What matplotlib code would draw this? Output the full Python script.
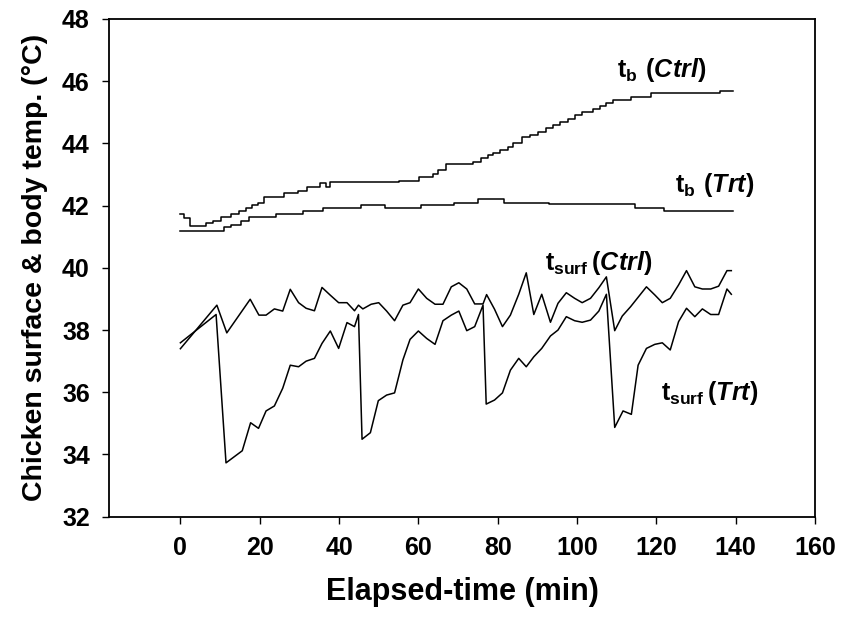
import matplotlib
matplotlib.use('Agg')
import matplotlib.pyplot as plt

# body temperature, stepwise readings (min, degC)
tb_ctrl_time = [0, 1.0, 2.3, 6.5, 8.3, 10.3, 12.8, 14.9, 16.6, 18.1, 19.5, 21.2,
                26.2, 29.6, 31.8, 35.1, 36.8, 37.7, 55.2, 60.2, 63.6, 64.9, 67.0,
                73.7, 75.8, 77.5, 78.8, 80.5, 82.6, 83.9, 86.2, 88.1, 90.2, 92.3,
                94.0, 95.7, 97.8, 99.5, 101.2, 104.0, 105.7, 107.3, 109.0, 113.7,
                118.7, 136.0, 139.3]
tb_ctrl = [41.72, 41.60, 41.34, 41.43, 41.51, 41.64, 41.73, 41.84, 41.91, 42.02,
           42.09, 42.27, 42.40, 42.48, 42.61, 42.74, 42.60, 42.75, 42.80, 42.93,
           43.02, 43.14, 43.33, 43.39, 43.52, 43.63, 43.70, 43.79, 43.87, 44.02,
           44.20, 44.27, 44.38, 44.50, 44.59, 44.70, 44.80, 44.90, 45.00, 45.10,
           45.20, 45.30, 45.40, 45.50, 45.63, 45.69, 45.69]

tb_trt_time = [0, 11.0, 12.7, 15.2, 17.3, 24.0, 30.8, 36.0, 45.5, 51.6, 60.6,
               69.0, 75.0, 81.6, 93.0, 114.5, 122.0, 139.3]
tb_trt = [41.19, 41.30, 41.38, 41.50, 41.64, 41.72, 41.84, 41.91, 42.03, 41.91,
          42.03, 42.09, 42.21, 42.10, 42.04, 41.91, 41.84, 41.84]

# surface temperature
ts_ctrl_time = [0, 9.2, 11.7, 17.6, 19.8, 21.6, 23.7, 25.8, 27.7, 29.8, 31.7,
                33.8, 35.7, 37.8, 39.9, 42.0, 43.9, 44.9, 46.0, 48.1, 50.0, 52.0,
                54.0, 56.1, 57.9, 60.0, 62.1, 64.2, 66.2, 68.3, 70.2, 72.2, 74.2,
                76.3, 77.2, 79.2, 81.2, 83.2, 85.3, 87.2, 89.1, 91.1, 93.3, 95.2,
                97.3, 99.4, 101.3, 103.4, 105.5, 107.4, 109.5, 111.4, 113.5, 115.5,
                117.5, 119.6, 121.5, 123.5, 125.6, 127.6, 129.7, 131.6, 133.7,
                135.7, 137.8, 138.9]
ts_ctrl = [37.40, 38.80, 37.91, 38.99, 38.48, 38.48, 38.68, 38.61, 39.31, 38.88,
           38.70, 38.62, 39.37, 39.12, 38.88, 38.88, 38.62, 38.80, 38.68, 38.83,
           38.88, 38.61, 38.30, 38.80, 38.88, 39.32, 39.02, 38.83, 38.83, 39.39,
           39.52, 39.32, 38.84, 38.84, 39.14, 38.67, 38.11, 38.48, 39.15, 39.84,
           38.50, 39.15, 38.25, 38.86, 39.20, 39.02, 38.88, 39.02, 39.36, 39.71,
           37.98, 38.45, 38.75, 39.07, 39.39, 39.13, 38.88, 39.02, 39.45, 39.91,
           39.39, 39.32, 39.32, 39.41, 39.91, 39.91]

ts_trt_time = [0, 9.0, 11.5, 15.6, 17.7, 19.7, 21.6, 23.7, 25.8, 27.7, 29.8, 31.7,
               33.8, 35.7, 37.8, 39.9, 42.0, 43.9, 44.9, 45.8, 47.9, 49.9, 52.0,
               54.0, 56.1, 57.9, 60.0, 62.1, 64.2, 66.2, 68.3, 70.2, 72.2, 74.2,
               76.3, 77.1, 79.2, 81.2, 83.2, 85.3, 87.2, 89.1, 91.1, 93.3, 95.2,
               97.3, 99.4, 101.3, 103.4, 105.5, 107.4, 109.5, 111.6, 113.7, 115.4,
               117.5, 119.6, 121.5, 123.5, 125.6, 127.6, 129.7, 131.6, 133.7,
               135.7, 137.8, 138.9]
ts_trt = [37.59, 38.50, 33.73, 34.12, 35.02, 34.84, 35.40, 35.56, 36.13, 36.87,
          36.82, 37.00, 37.09, 37.57, 37.97, 37.41, 38.24, 38.11, 38.50, 34.49,
          34.70, 35.73, 35.91, 35.98, 37.04, 37.70, 37.97, 37.73, 37.54, 38.30,
          38.48, 38.61, 37.98, 38.11, 38.80, 35.62, 35.75, 35.98, 36.71, 37.09,
          36.82, 37.14, 37.41, 37.81, 38.00, 38.43, 38.30, 38.25, 38.32, 38.61,
          39.15, 34.87, 35.40, 35.29, 36.87, 37.41, 37.54, 37.59, 37.36, 38.27,
          38.70, 38.43, 38.68, 38.50, 38.50, 39.32, 39.15]

xticks = [0, 20, 40, 60, 80, 100, 120, 140, 160]
yticks = [32, 34, 36, 38, 40, 42, 44, 46, 48]

plt.rcParams['font.family'] = 'Liberation Sans'
plt.rcParams['font.weight'] = 'bold'
plt.rcParams['mathtext.fontset'] = 'custom'
plt.rcParams['mathtext.rm'] = 'Liberation Sans'
plt.rcParams['mathtext.bf'] = 'Liberation Sans:bold'
plt.rcParams['mathtext.bfit'] = 'Liberation Sans:italic:bold'

fig = plt.figure(figsize=(8.41, 6.25), dpi=100)
ax = fig.add_axes([0.1296, 0.1733, 0.8395, 0.7963])

ax.plot(tb_ctrl_time, tb_ctrl, color='black', lw=1.1, drawstyle='steps-post')
ax.plot(tb_trt_time, tb_trt, color='black', lw=1.1, drawstyle='steps-post')
ax.plot(ts_ctrl_time, ts_ctrl, color='black', lw=1.1)
ax.plot(ts_trt_time, ts_trt, color='black', lw=1.1)

lab_size = 18
ax.text(110.2, 46.14, r'$\mathbf{t_{b}\ (}\mathbfit{Ctrl}\mathbf{)}$',
        fontsize=lab_size, ha='left', va='baseline')
ax.text(124.6, 42.45, r'$\mathbf{t_{b}\ (}\mathbfit{Trt}\mathbf{)}$',
        fontsize=lab_size, ha='left', va='baseline')
ax.text(91.8, 39.93, r'$\mathbf{t_{surf}\,(}\mathbfit{Ctrl}\mathbf{)}$',
        fontsize=lab_size, ha='left', va='baseline')
ax.text(121.2, 35.75, r'$\mathbf{t_{surf}\,(}\mathbfit{Trt}\mathbf{)}$',
        fontsize=lab_size, ha='left', va='baseline')

ax.set_xlim(-18, 160)
ax.set_ylim(32, 48)
ax.set_xticks(xticks)
ax.set_yticks(yticks)
ax.tick_params(direction='out', length=4.8, width=1.0, labelsize=18, pad=9)
for s in ax.spines.values():
    s.set_linewidth(1.3)

ax.set_xlabel('Elapsed-time (min)', fontsize=22, fontweight='bold', labelpad=12)
ax.set_ylabel('Chicken surface & body temp. (°C)', fontsize=20.5, fontweight='bold',
              labelpad=10)

fig.savefig('out.png', dpi=100)
